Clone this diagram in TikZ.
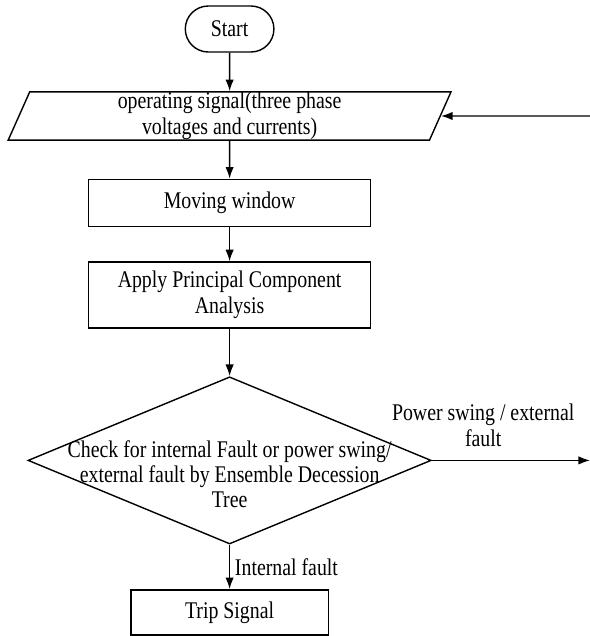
\documentclass[tikz,border=0pt]{standalone}
\usepackage{fontspec}
\setmainfont{Liberation Serif}[FakeStretch=0.83]
\usetikzlibrary{shapes.geometric,shapes.misc,arrows.meta}

\begin{document}
\begin{tikzpicture}[
    every node/.style={font=\fontsize{17}{18.8}\selectfont},
    line/.style={draw, line width=1pt, -{Latex[length=2.9mm,width=2.1mm]}},
    startstop/.style={rounded rectangle, draw, line width=1pt,
      minimum width=2.45cm, minimum height=1.15cm},
    io/.style={trapezium, trapezium left angle=76, trapezium right angle=104,
      trapezium stretches=true, draw, line width=1pt, align=center,
      minimum width=11.1cm, minimum height=1.2cm, inner sep=0pt},
    process/.style={rectangle, draw, line width=1pt, align=center},
    decision/.style={diamond, draw, line width=1pt,
      minimum width=10.08cm, minimum height=4.18cm, inner sep=0pt}
  ]
  \useasboundingbox (0,0) rectangle (14.75,-15.9);

  \node[startstop] (start) at (5.74,-0.725) {Start};
  \node[io] (signal) at (5.74,-2.9) {operating signal(three phase\\voltages and currents)};
  \node[process, minimum width=7.05cm, minimum height=1.175cm] (window) at (5.74,-5.07) {Moving window};
  \node[process, minimum width=7.05cm, minimum height=1.65cm] (pca) at (5.74,-7.375)
    {Apply Principal Component\\Analysis};

  \node[decision] (check) at (5.74,-11.51) {};
  \node[align=center, font=\fontsize{17}{17.8}\selectfont] (checktext) at (5.74,-11.85)
    {Check for internal Fault or power swing/\\external fault by Ensemble Decession\\Tree};

  \node[process, minimum width=4.93cm, minimum height=1.13cm] (trip) at (5.74,-15.31) {Trip Signal};

  \coordinate (out) at (14.75,-11.51);
  \coordinate (back) at (14.75,-2.9);
  \node[align=center] (swing) at (12.08,-10.64) {Power swing / external\\fault};

  \draw[line] (start) -- (signal);
  \draw[line] (signal) -- (window);
  \draw[line] (window) -- (pca);
  \draw[line] (pca) -- (check);
  \draw[line] (check) -- node[right] (internal) {Internal fault} (trip);
  \draw[line] (check) -- (out);
  \draw[line] (back) -- (signal);
\end{tikzpicture}
\end{document}
